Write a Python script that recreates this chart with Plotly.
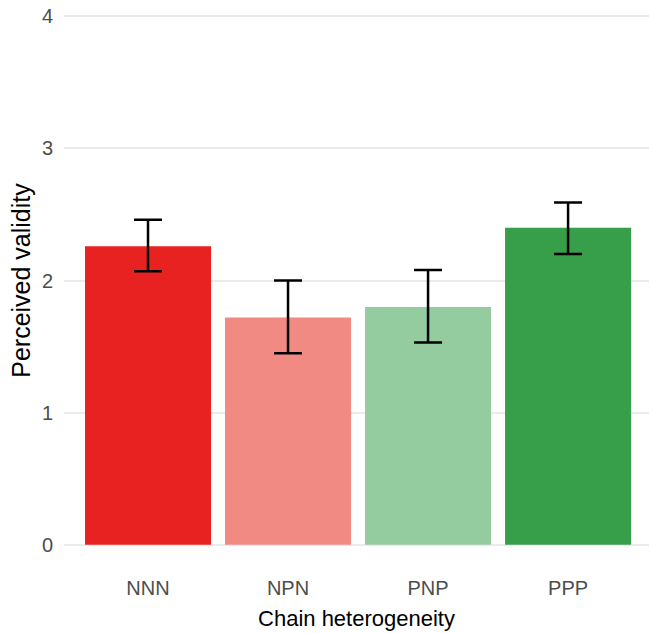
import plotly.graph_objects as go

categories = ["NNN", "NPN", "PNP", "PPP"]
means = [2.26, 1.72, 1.80, 2.40]
err_upper = [0.20, 0.28, 0.28, 0.19]
err_lower = [0.19, 0.27, 0.27, 0.20]
colors = ["#E82220", "#F28A84", "#94CC9F", "#379E4A"]
y_ticks = [0, 1, 2, 3, 4]

fig = go.Figure()
fig.add_trace(go.Bar(
    x=categories,
    y=means,
    marker=dict(color=colors, line=dict(width=0)),
    error_y=dict(type="data", symmetric=False, array=err_upper, arrayminus=err_lower,
                 color="black", thickness=2.5, width=14),
    width=0.9,
))

fig.update_layout(
    width=649, height=633,
    margin=dict(l=64, r=0, t=15, b=87),
    plot_bgcolor="white", paper_bgcolor="white",
    font=dict(family="Liberation Sans, Arial, sans-serif"),
    showlegend=False,
    xaxis=dict(
        range=[-0.6, 3.578],
        showgrid=False, zeroline=False, showline=False, ticks="",
        tickfont=dict(size=20, color="#4D4D4D"),
        title=dict(text="Chain heterogeneity", font=dict(size=22, color="black"), standoff=12),
        ticklabelstandoff=28,
        automargin=False,
    ),
    yaxis=dict(
        range=[-0.01, 4.01],
        tickvals=y_ticks,
        showgrid=True, gridcolor="#EBEBEB", gridwidth=1.5,
        zeroline=False, showline=False, ticks="",
        tickfont=dict(size=20, color="#4D4D4D"),
        title=dict(text="Perceived validity", font=dict(size=25, color="black"), standoff=4),
        ticklabelstandoff=10,
        automargin=False,
    ),
)

fig.write_html("out.html", config={"displayModeBar": False},
               post_script="document.body.style.margin='0';")
